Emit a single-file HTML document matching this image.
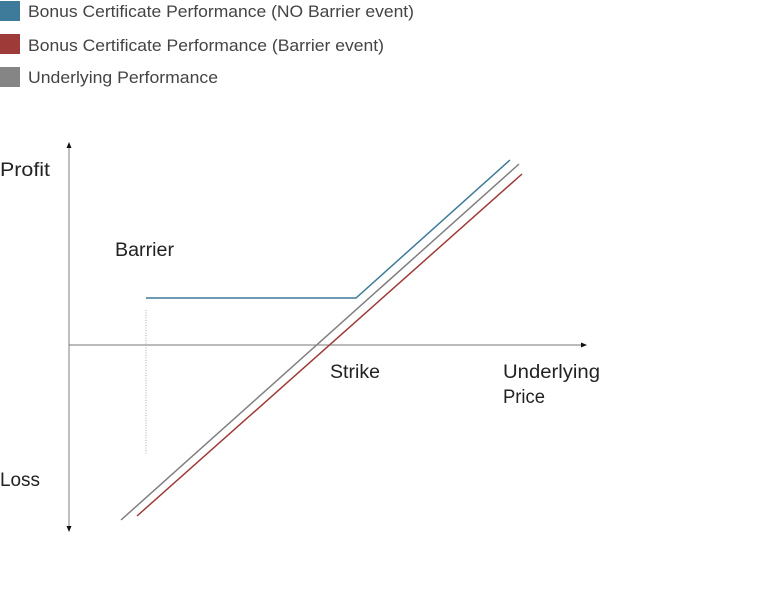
<!DOCTYPE html>
<html><head><style>
body{margin:0;width:769px;height:601px;background:#fff;overflow:hidden;font-family:"Liberation Sans",sans-serif;}
</style></head><body>
<svg width="769" height="601" xmlns="http://www.w3.org/2000/svg" style="position:absolute;left:0;top:0">
<rect x="0" y="1" width="20" height="20" fill="#3e7a9a"/>
<rect x="0" y="34" width="20" height="20" fill="#9e3b38"/>
<rect x="0" y="67" width="20" height="20" fill="#858585"/>
<g font-family="Liberation Sans, sans-serif" font-size="17" fill="#444">
<text x="28" y="17" textLength="386" lengthAdjust="spacingAndGlyphs">Bonus Certificate Performance (NO Barrier event)</text>
<text x="28" y="51" textLength="356" lengthAdjust="spacingAndGlyphs">Bonus Certificate Performance (Barrier event)</text>
<text x="28" y="83" textLength="190" lengthAdjust="spacingAndGlyphs">Underlying Performance</text>
</g>
<g font-family="Liberation Sans, sans-serif" font-size="19" fill="#222">
<text x="0" y="176" textLength="50" lengthAdjust="spacingAndGlyphs">Profit</text>
<text x="0" y="486" textLength="40" lengthAdjust="spacingAndGlyphs">Loss</text>
<text x="115" y="256" textLength="59" lengthAdjust="spacingAndGlyphs">Barrier</text>
<text x="330" y="378" textLength="50" lengthAdjust="spacingAndGlyphs">Strike</text>
<text x="503" y="378" textLength="97" lengthAdjust="spacingAndGlyphs">Underlying</text>
<text x="503" y="403" textLength="42" lengthAdjust="spacingAndGlyphs">Price</text>
</g>
<line x1="69" y1="147" x2="69" y2="527" stroke="#aaa" stroke-width="1.5"/>
<polygon points="69,142 66.5,148 71.5,148" fill="#111"/>
<polygon points="69,532 66.5,526 71.5,526" fill="#111"/>
<line x1="69" y1="345" x2="581" y2="345" stroke="#777" stroke-width="1"/>
<polygon points="587,345 581,342.5 581,347.5" fill="#111"/>
<line x1="146" y1="310" x2="146" y2="454" stroke="#aaa" stroke-width="1" stroke-dasharray="1,1.5"/>
<polyline points="146,298 356,298 510,160" fill="none" stroke="#3e7a9a" stroke-width="1.5"/>
<line x1="121" y1="520" x2="519" y2="164" stroke="#808080" stroke-width="1.5"/>
<line x1="137" y1="516" x2="522" y2="174" stroke="#9e3b38" stroke-width="1.5"/>
</svg>
</body></html>
